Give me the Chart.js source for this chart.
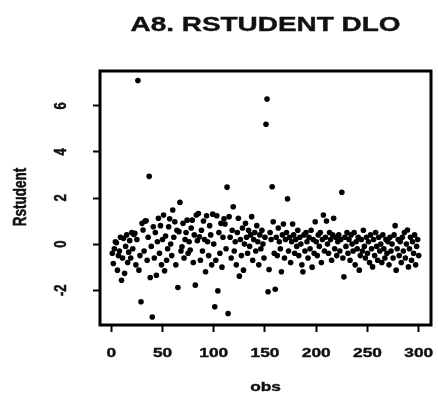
<!DOCTYPE html>
<html>
<head>
<meta charset="utf-8">
<script src="https://cdn.jsdelivr.net/npm/chart.js@4"></script>
<style>
  html, body { margin: 0; padding: 0; background: #fff; }
  #wrap { width: 438px; height: 396px; }
</style>
</head>
<body>
<div id="wrap"><canvas id="plot" width="438" height="396"></canvas></div>
<script>
const rstudent = [
  -0.4, -0.84, -0.2, 0.1, 0.06, -1.13, -0.5, -0.3, 0.3, -1.57,
  -0.6, 0.25, -1.27, -0.1, 0.4, -0.8, -0.35, 0.15, -0.6, 0.5,
  -0.2, 0.42, 0.47, -0.9, 0.2, 7.1, -1.13, -0.5, -2.5, 0.9,
  0.61, -0.3, 1.0, 1.01, -0.7, 0.3, 2.94, -1.45, -0.1, -3.16,
  0.75, -0.6, 0.5, -1.35, 0.1, 1.12, -0.4, 0.8, -0.9, 0.2,
  1.26, -1.16, 0.35, -0.7, -0.2, 0.75, 1.1, 0.0, -0.5, 1.48,
  0.3, 0.97, -0.9, 0.6, -1.88, 0.54, 1.81, -0.3, -0.12, 0.9,
  -0.6, 0.2, 0.5, 1.04, -0.4, 0.1, -0.26, 0.7, 1.04, -0.8,
  0.4, -1.78, 1.26, 0.15, 1.33, 0.32, -0.7, 0.6, -0.3, 1.0,
  0.2, -1.2, 1.23, 0.1, -0.5, 0.8, 0.4, -0.9, 1.3, 0.0,
  -2.72, -0.7, 1.23, -2.03, 0.5, -0.4, 0.9, -1.0, 0.3, 1.1,
  0.87, -0.2, 2.47, -3.01, 1.19, 0.3, -0.6, 0.6, 1.62, -0.3,
  0.1, -0.9, 0.5, 1.12, -1.39, 0.2, -0.5, 0.7, -1.13, 0.0,
  0.9, 0.3, -0.4, 0.6, -0.1, 0.4, 1.19, -0.7, 0.2, 0.5,
  -0.3, 0.8, 0.1, -0.9, 0.4, -0.2, 0.6, 0.0, -0.6, 0.3,
  5.2, 6.29, -2.07, -1.1, 0.5, 0.2, 2.49, 0.97, -0.4, -1.96,
  0.3, -0.5, 0.7, 0.1, -0.2, -1.2, 0.4, 0.87, -0.6, 0.2,
  0.5, 1.96, -0.3, 0.3, -0.8, 0.1, 0.87, 0.4, -0.4, 0.2,
  -0.1, 0.6, -0.5, 0.3, 0.0, -0.9, -1.2, 0.4, -0.3, 0.5,
  0.1, -0.6, 0.3, -0.2, 0.6, -1.0, 0.2, -0.4, 0.97, 0.1,
  -0.5, 0.4, -0.1, 0.5, -0.8, 0.2, 1.26, -0.3, 0.3, 1.0,
  0.0, -0.4, 0.5, 0.2, -0.7, 0.4, 1.12, -0.2, 0.3, -0.5,
  0.1, 0.4, -0.3, 0.2, 2.25, -0.6, -1.42, 0.3, -0.1, 0.5,
  -0.4, 0.2, -0.7, 0.4, 0.0, -0.3, 0.5, -0.9, 0.1, -0.2,
  0.3, -1.13, -0.5, 0.2, -0.3, 0.6, -0.1, -0.6, 0.3, -0.4,
  0.1, -0.8, 0.4, -0.2, -0.99, 0.2, -0.5, 0.5, -0.1, -0.7,
  0.3, -0.3, 0.0, -0.8, 0.4, -0.2, -0.6, 0.2, -0.4, 0.1,
  -0.9, 0.3, -0.3, 0.0, -0.6, 0.4, 0.8, -1.13, -0.2, 0.2,
  -0.5, 0.1, -0.8, 0.3, -0.3, 0.5, -0.6, 0.0, 0.61, -0.99,
  -0.2, 0.3, -0.7, 0.1, -0.4, 0.4, -0.9, -0.1, 0.2, -0.5
];
const xTicks = [0, 50, 100, 150, 200, 250, 300];
const yTicks = [-2, 0, 2, 4, 6];
const titleText = 'A8. RSTUDENT DLO';
const xLabel = 'obs';
const yLabel = 'Rstudent';

const points = rstudent.map((v, i) => ({ x: i + 1, y: v }));

// the scanned figure is stretched sideways, so text is widened a bit
const STRETCH = 1.33;

function stretchedText(ctx, text, x, y, font, rotate) {
  ctx.save();
  ctx.translate(x, y);
  ctx.scale(STRETCH, 1);
  if (rotate) ctx.rotate(-Math.PI / 2);
  ctx.font = font;
  ctx.fillStyle = '#111';
  ctx.strokeStyle = '#111';
  ctx.lineWidth = 0.4;
  ctx.textAlign = 'center';
  ctx.textBaseline = 'middle';
  ctx.fillText(text, 0, 0);
  ctx.strokeText(text, 0, 0);
  ctx.restore();
}

const frameAndText = {
  id: 'frameAndText',
  afterDraw(chart) {
    const ctx = chart.ctx;
    const a = chart.chartArea;
    const xs = chart.scales.x;
    const ys = chart.scales.y;

    ctx.save();
    ctx.strokeStyle = '#000';
    ctx.lineWidth = 3;
    ctx.strokeRect(a.left, a.top, a.right - a.left, a.bottom - a.top);
    ctx.restore();

    const midX = (a.left + a.right) / 2;
    const midY = (a.top + a.bottom) / 2;

    stretchedText(ctx, titleText, midX, 25, 'bold 21px "Liberation Sans", Arial, sans-serif', false);

    xTicks.forEach(v => {
      stretchedText(ctx, String(v), xs.getPixelForValue(v), 353, 'bold 13px "Liberation Sans", Arial, sans-serif', false);
    });
    yTicks.forEach(v => {
      stretchedText(ctx, String(v), 61, ys.getPixelForValue(v), 'bold 13px "Liberation Sans", Arial, sans-serif', true);
    });

    stretchedText(ctx, xLabel, midX, 387, 'bold 13px "Liberation Sans", Arial, sans-serif', false);
    stretchedText(ctx, yLabel, 21, midY - 1, 'bold 13.5px "Liberation Sans", Arial, sans-serif', true);
  }
};

new Chart(document.getElementById('plot').getContext('2d'), {
  type: 'scatter',
  data: {
    datasets: [{
      data: points,
      backgroundColor: '#000',
      borderColor: '#000',
      pointRadius: 2.8,
      pointBorderWidth: 0,
      pointHoverRadius: 2.8
    }]
  },
  options: {
    responsive: false,
    animation: false,
    events: [],
    layout: { padding: { top: 71, right: 7, left: 0, bottom: 0 } },
    plugins: {
      legend: { display: false },
      tooltip: { enabled: false },
      title: { display: false }
    },
    scales: {
      x: {
        type: 'linear',
        min: -11,
        max: 312,
        afterBuildTicks: scale => { scale.ticks = xTicks.map(v => ({ value: v })); },
        afterFit: scale => { scale.height = 71; },
        ticks: { display: false },
        grid: { drawOnChartArea: false, drawTicks: true, tickLength: 7, tickWidth: 2, tickColor: '#000' },
        border: { display: false }
      },
      y: {
        type: 'linear',
        min: -3.51,
        max: 7.51,
        afterBuildTicks: scale => { scale.ticks = yTicks.map(v => ({ value: v })); },
        afterFit: scale => { scale.width = 100; },
        ticks: { display: false },
        grid: { drawOnChartArea: false, drawTicks: true, tickLength: 7, tickWidth: 2, tickColor: '#000' },
        border: { display: false }
      }
    }
  },
  plugins: [frameAndText]
});
</script>
</body>
</html>
